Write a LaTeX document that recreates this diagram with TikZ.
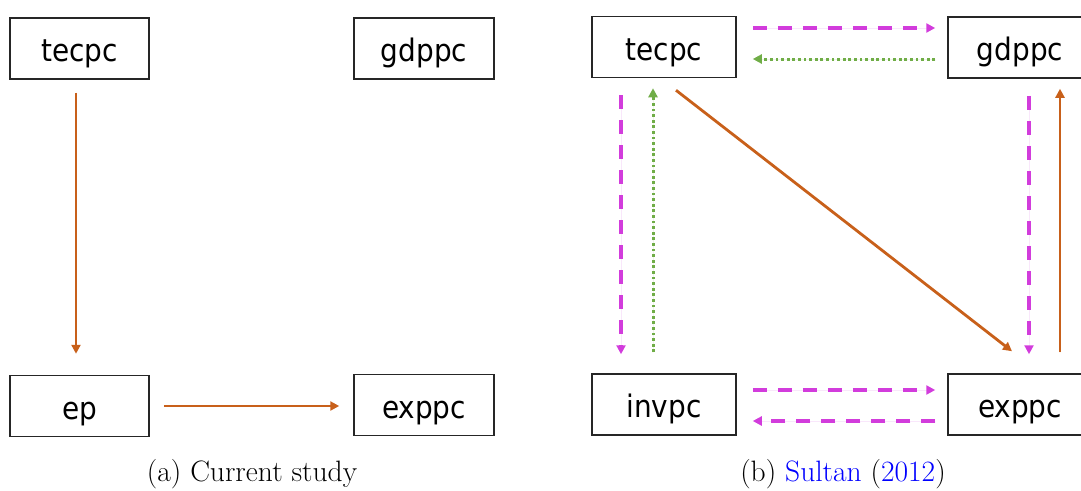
\documentclass[tikz,border=0pt]{standalone}
\usepackage{fontspec}
\newfontfamily\boxfont{DejaVu Sans Condensed}
\usetikzlibrary{arrows.meta}
\definecolor{arrorange}{HTML}{C8601A}
\definecolor{arrmag}{HTML}{D23CDC}
\definecolor{arrgreen}{HTML}{70AD47}
\definecolor{linkblue}{HTML}{0000FF}
\tikzset{
  varbox/.style={draw=black!85, line width=1.5pt, minimum width=#1, minimum height=61pt,
    inner sep=0pt, text height=29pt, text depth=3pt, font=\boxfont\fontsize{31}{36}\selectfont},
  tipstyle/.style={-{Triangle[length=9pt,width=9pt]}},
  solidarrow/.style={tipstyle, draw=arrorange, fill=arrorange, line width=2.8pt},
  dasharrow/.style={tipstyle, draw=arrmag, fill=arrmag, line width=3.2pt, dash pattern=on 14pt off 11pt},
  dotarrow/.style={tipstyle, draw=arrgreen, fill=arrgreen, line width=3pt, dash pattern=on 2.8pt off 2.8pt},
  captext/.style={font=\fontsize{29.5}{34}\selectfont, anchor=base}
}
\begin{document}
\begin{tikzpicture}[x=1pt,y=-1pt]
\useasboundingbox (0,0) rectangle (1081,490);
\clip (0,0) rectangle (1081,490);
% panel (a)
\node[varbox=139pt] (tecpcA) at (79.5,48.5) {tecpc};
\node[varbox=140pt] (gdppcA) at (424,48.5) {gdppc};
\node[varbox=139pt] (epA) at (79.5,406) {ep};
\node[varbox=140pt] (exppcA) at (424,405) {exppc};
\draw[solidarrow, shorten <=13pt, shorten >=21pt] ([xshift=-3.5pt]tecpcA.south) -- ([xshift=-3.5pt]epA.north);
\draw[solidarrow, shorten <=14pt, shorten >=14pt] ([yshift=0pt]epA.east) -- ([yshift=-1pt]exppcA.west);
\node[captext] (capA) at (252,481) {(a) Current study};
% panel (b)
\node[varbox=144pt] (tecpcB) at (664,47) {tecpc};
\node[varbox=144pt] (gdppcB) at (1020,47.5) {gdppc};
\node[varbox=144pt] (invpcB) at (664,404.5) {invpc};
\node[varbox=144pt] (exppcB) at (1020,404.5) {exppc};
% top pair
\draw[dasharrow, shorten <=16pt, shorten >=12pt] ([yshift=19pt]tecpcB.east) -- ([yshift=19.5pt]gdppcB.west);
\draw[dotarrow, shorten <=12pt, shorten >=16pt] ([yshift=-11.5pt]gdppcB.west) -- ([yshift=-12pt]tecpcB.east);
% left pair
\draw[dasharrow, shorten <=17pt, shorten >=19pt] ([xshift=-43pt]tecpcB.south) -- ([xshift=-43pt]invpcB.north);
\draw[dotarrow, shorten <=21pt, shorten >=10pt] ([xshift=-11pt]invpcB.north) -- ([xshift=-11pt]tecpcB.south);
% diagonal
\draw[solidarrow] ([xshift=12pt,yshift=-12pt]tecpcB.south) -- ([xshift=-8pt,yshift=22pt]exppcB.north);
% right pair
\draw[dasharrow, shorten <=17pt, shorten >=19pt] ([xshift=9pt]gdppcB.south) -- ([xshift=9pt]exppcB.north);
\draw[solidarrow, shorten <=21pt, shorten >=10pt] ([xshift=40pt]exppcB.north) -- ([xshift=40pt]gdppcB.south);
% bottom pair
\draw[dasharrow, shorten <=16pt, shorten >=12pt] ([yshift=14.5pt]invpcB.east) -- ([yshift=14.5pt]exppcB.west);
\draw[dasharrow, shorten <=12pt, shorten >=16pt] ([yshift=-16.5pt]exppcB.west) -- ([yshift=-16.5pt]invpcB.east);
\node[captext] (capB) at (843,481) {(b) \textcolor{linkblue}{Sultan} (\textcolor{linkblue}{2012})};
\end{tikzpicture}
\end{document}
